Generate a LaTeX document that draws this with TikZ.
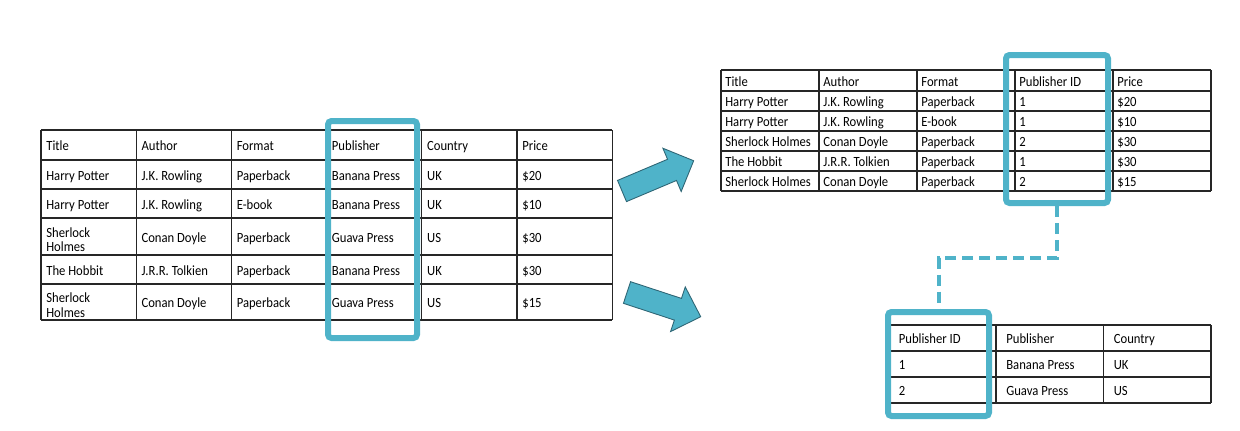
\documentclass[tikz,border=0pt]{standalone}
\usepackage{fontspec}
\setmainfont{Carlito}[FakeStretch=0.9]
\usetikzlibrary{calc}

\definecolor{hlblue}{HTML}{4FB3C9}
\definecolor{arrowedge}{HTML}{2E6574}

\tikzset{
  gridline/.style={black!85, line width=0.7pt},
  cell/.style={anchor=west, inner sep=0pt, text height=5.6pt, text depth=1.8pt, yshift=-0.4mm, font=\fontsize{8}{8.3}\selectfont},
  cellwrap/.style={anchor=west, inner sep=0pt, align=left, yshift=-0.4mm, font=\fontsize{8}{8.3}\selectfont},
  hlbox/.style={draw=hlblue, line width=1.2mm, rounded corners=0.7mm, inner sep=0pt},
  fklink/.style={draw=hlblue, line width=0.8mm, dash pattern=on 2.2mm off 1.2mm},
  blockarrow/.style={fill=hlblue, draw=arrowedge, line width=0.5pt}
}

\begin{document}
\begin{tikzpicture}[x=0.2mm, y=-0.2mm]
	\useasboundingbox (0,0) rectangle (1240,430);
	
	% Original table
	\begin{scope}[shift={(41,130)}]
		\foreach \i in {0,...,6}
			\draw[gridline] ({95.2*\i},0) -- ({95.2*\i},190);
		\foreach \y in {0,30,59,88,125,154,190}
			\draw[gridline] (0,\y) -- (571.2,\y);
		\foreach \t [count=\i from 0] in {Title,Author,Format,Publisher,Country,Price}
			\node[cell] (books-0-\i) at ({5+95.2*\i},15.5) {\t};
		\foreach \t [count=\i from 0] in {Harry Potter,J.K. Rowling,Paperback,Banana Press,UK,\$20}
			\node[cell] (books-1-\i) at ({5+95.2*\i},45) {\t};
		\foreach \t [count=\i from 0] in {Harry Potter,J.K. Rowling,E-book,Banana Press,UK,\$10}
			\node[cell] (books-2-\i) at ({5+95.2*\i},74) {\t};
		\node[cellwrap] (books-3-0) at (5,107.5) {Sherlock\\Holmes};
		\foreach \t [count=\i] in {Conan Doyle,Paperback,Guava Press,US,\$30}
			\node[cell] (books-3-\i) at ({5+95.2*\i},107) {\t};
		\foreach \t [count=\i from 0] in {The Hobbit,J.R.R. Tolkien,Paperback,Banana Press,UK,\$30}
			\node[cell] (books-4-\i) at ({5+95.2*\i},140) {\t};
		\node[cellwrap] (books-5-0) at (5,173) {Sherlock\\Holmes};
		\foreach \t [count=\i] in {Conan Doyle,Paperback,Guava Press,US,\$15}
			\node[cell] (books-5-\i) at ({5+95.2*\i},172.5) {\t};
	\end{scope}
	
	% Book table with publisher ID
	\begin{scope}[shift={(721,70)}]
		\foreach \i in {0,...,5}
			\draw[gridline] ({98*\i},0) -- ({98*\i},121);
		\foreach \y in {0,21,41,61,81,101,121}
			\draw[gridline] (0,\y) -- (490,\y);
		\foreach \t [count=\i from 0] in {Title,Author,Format,Publisher ID,Price}
			\node[cell] (edition-0-\i) at ({4+98*\i},11) {\t};
		\foreach \t [count=\i from 0] in {Harry Potter,J.K. Rowling,Paperback,1,\$20}
			\node[cell] (edition-1-\i) at ({4+98*\i},31.5) {\t};
		\foreach \t [count=\i from 0] in {Harry Potter,J.K. Rowling,E-book,1,\$10}
			\node[cell] (edition-2-\i) at ({4+98*\i},51.5) {\t};
		\foreach \t [count=\i from 0] in {Sherlock Holmes,Conan Doyle,Paperback,2,\$30}
			\node[cell] (edition-3-\i) at ({4+98*\i},71.5) {\t};
		\foreach \t [count=\i from 0] in {The Hobbit,J.R.R. Tolkien,Paperback,1,\$30}
			\node[cell] (edition-4-\i) at ({4+98*\i},91.5) {\t};
		\foreach \t [count=\i from 0] in {Sherlock Holmes,Conan Doyle,Paperback,2,\$15}
			\node[cell] (edition-5-\i) at ({4+98*\i},111.5) {\t};
	\end{scope}
	
	% Publisher table
	\begin{scope}[shift={(888.5,325)}]
		\foreach \i in {0,...,3}
			\draw[gridline] ({107.5*\i},0) -- ({107.5*\i},78);
		\foreach \y in {0,26,52,78}
			\draw[gridline] (0,\y) -- (322.5,\y);
		\foreach \t [count=\i from 0] in {Publisher ID,Publisher,Country}
			\node[cell] (press-0-\i) at ({10+107.5*\i},13.5) {\t};
		\foreach \t [count=\i from 0] in {1,Banana Press,UK}
			\node[cell] (press-1-\i) at ({10+107.5*\i},39.5) {\t};
		\foreach \t [count=\i from 0] in {2,Guava Press,US}
			\node[cell] (press-2-\i) at ({10+107.5*\i},65.5) {\t};
	\end{scope}
	
	% Highlighted columns
	\node[hlbox, minimum width=17.8mm, minimum height=43.4mm] (pubcol) at (372.5,229.5) {};
	\node[hlbox, minimum width=20.4mm, minimum height=29.6mm] (idcol) at (1057,129) {};
	\node[hlbox, minimum width=20.2mm, minimum height=20.8mm] (keycol) at (938.5,364) {};
	\draw[fklink] (idcol.south) -- ++(0,52) -| (keycol.north);
	
	% Split arrows
	\begin{scope}[shift={(622,191)}, rotate=22.9]
		\draw[blockarrow] (0,-11.5) -- (54.3,-11.5) -- (54.3,-23.5) -- (77.8,0)
			-- (54.3,23.5) -- (54.3,11.5) -- (0,11.5) -- cycle;
	\end{scope}
	\begin{scope}[shift={(627,292.5)}, rotate=-18.2]
		\draw[blockarrow] (0,-11.4) -- (53.6,-11.4) -- (53.6,-23.5) -- (77.6,0)
			-- (53.6,23.5) -- (53.6,11.4) -- (0,11.4) -- cycle;
	\end{scope}
	
\end{tikzpicture}
\end{document}
